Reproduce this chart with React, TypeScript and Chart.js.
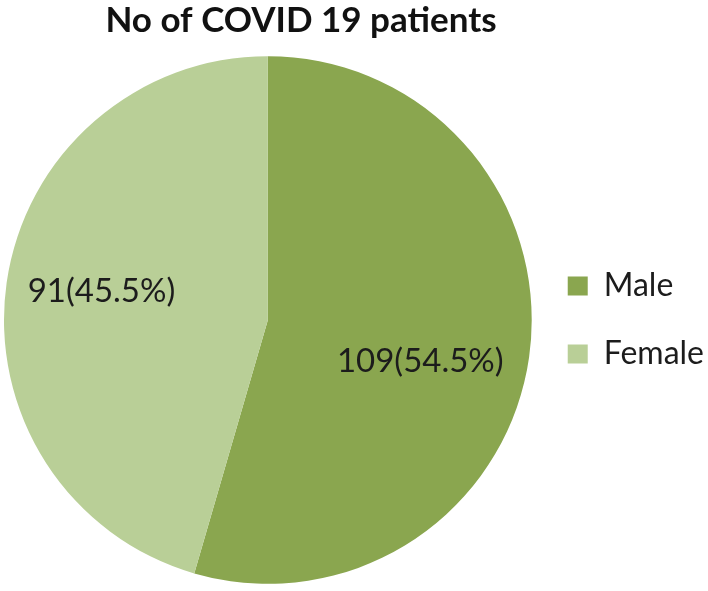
import React, { useEffect, useRef } from 'react';
import { Chart, registerables } from 'chart.js';

Chart.register(...registerables);

// ---- data ----
const categories = ['Male', 'Female'];
const patients = [109, 91];
const chartTitle = 'No of COVID 19 patients';

// ---- styling ----
const sliceColors = ['#8AA64F', '#B9CF97'];
const textColor = '#1c1c1c';
const fontFamily = 'Lato, "Open Sans", "DejaVu Sans", sans-serif';
// label placement: fraction of radius along the slice mid-angle, plus a nudge (px)
const labelRadiusFraction = 0.66;
const labelNudges = [
  [-20, 17],
  [6, -4],
];

const total = patients.reduce((a, b) => a + b, 0);
const sliceLabelTexts = patients.map(
  (v) => `${v}(${((v / total) * 100).toFixed(1)}%)`
);

const titlePlugin = {
  id: 'customTitle',
  afterDraw(chart: any) {
    const { ctx } = chart;
    ctx.save();
    ctx.font = `bold 35px ${fontFamily}`;
    ctx.fillStyle = '#111111';
    ctx.textAlign = 'center';
    ctx.textBaseline = 'alphabetic';
    ctx.fillText(chartTitle, 301, 32);
    ctx.restore();
  },
};

const sliceLabelPlugin = {
  id: 'sliceLabels',
  afterDatasetsDraw(chart: any) {
    const { ctx } = chart;
    const meta = chart.getDatasetMeta(0);
    ctx.save();
    ctx.font = `33px ${fontFamily}`;
    ctx.fillStyle = textColor;
    ctx.textAlign = 'center';
    ctx.textBaseline = 'middle';
    meta.data.forEach((arc: any, i: number) => {
      const { x, y, startAngle, endAngle, outerRadius } = arc.getProps(
        ['x', 'y', 'startAngle', 'endAngle', 'outerRadius'],
        true
      );
      const mid = (startAngle + endAngle) / 2;
      const r = outerRadius * labelRadiusFraction;
      const [nx, ny] = labelNudges[i] || [0, 0];
      ctx.fillText(
        sliceLabelTexts[i],
        x + Math.cos(mid) * r + nx,
        y + Math.sin(mid) * r + ny
      );
    });
    ctx.restore();
  },
};

export default function App() {
  const canvasRef = useRef<HTMLCanvasElement | null>(null);

  useEffect(() => {
    if (!canvasRef.current) return;
    const chart = new Chart(canvasRef.current, {
      type: 'pie',
      data: {
        labels: categories,
        datasets: [
          {
            data: patients,
            backgroundColor: sliceColors,
            borderWidth: 0,
          },
        ],
      },
      options: {
        responsive: false,
        animation: false,
        layout: {
          padding: { top: 56, bottom: 7, left: 4, right: -6 },
        },
        plugins: {
          title: { display: false },
          tooltip: { enabled: false },
          legend: {
            display: true,
            position: 'right',
            align: 'center',
            labels: {
              boxWidth: 20,
              boxHeight: 19,
              padding: 36,
              color: textColor,
              font: { family: fontFamily, size: 32 },
            },
          },
        },
      },
      plugins: [titlePlugin, sliceLabelPlugin],
    });
    return () => chart.destroy();
  }, []);

  return (
    <div
      style={{
        position: 'absolute',
        left: 0,
        top: 0,
        width: 708,
        height: 591,
        background: '#ffffff',
      }}
    >
      <canvas ref={canvasRef} width={708} height={591} />
    </div>
  );
}
